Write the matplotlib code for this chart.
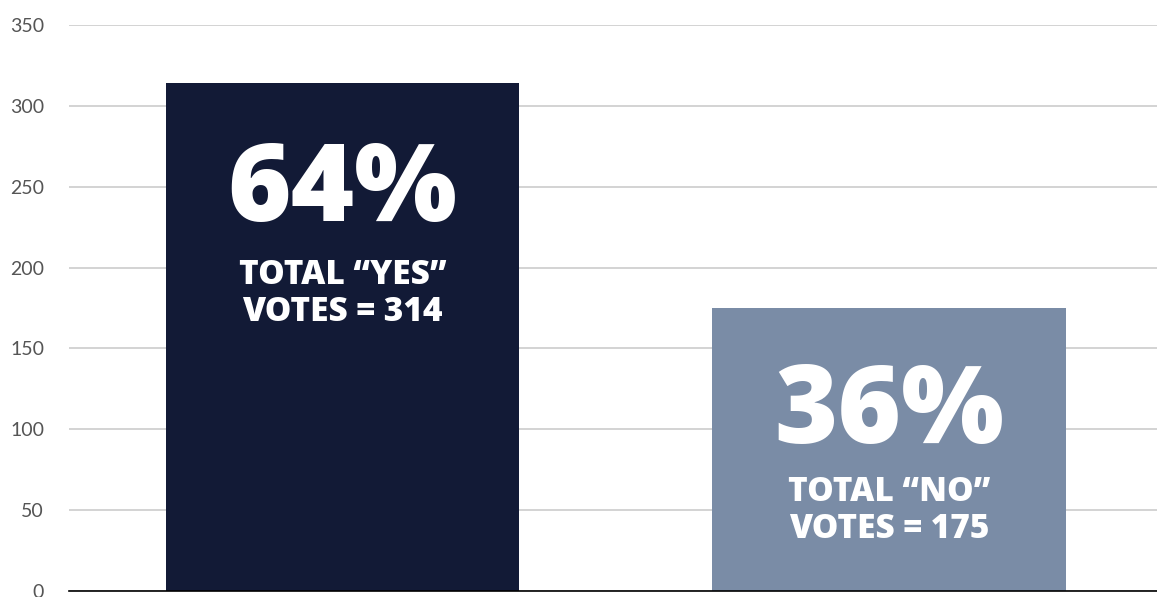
import matplotlib.pyplot as plt

labels = ['YES', 'NO']
votes = [314, 175]
shares = ['64%', '36%']
colors = ['#121a36', '#7a8ca6']
yticks = [0, 50, 100, 150, 200, 250, 300, 350]


def main():
    fig = plt.figure(figsize=(11.57, 5.97), dpi=100)
    ax = fig.add_axes([69 / 1157, 6 / 597, 1 - 69 / 1157, 566 / 597])

    xs = list(range(len(votes)))
    ax.bar(xs, votes, width=0.646, color=colors, zorder=2)

    # offsets below the bar top (data units) for the big number and the caption
    offs = [(68, 130), (66, 125)]
    for x, v, s, lab, (o1, o2) in zip(xs, votes, shares, labels, offs):
        ax.text(x, v - o1, s, ha='center', va='center', color='white',
                fontsize=78, fontweight=800, family='Open Sans')
        ax.text(x, v - o2, 'TOTAL \u201c%s\u201d\nVOTES = %d' % (lab, v),
                ha='center', va='center', color='white', fontsize=24,
                fontweight=800, family='Open Sans', linespacing=1.12)

    ax.set_xlim(-0.5005, 1.4904)
    ax.set_ylim(0, 350)
    ax.set_yticks(yticks)
    ax.set_xticks([])
    ax.tick_params(axis='y', length=0, pad=18, labelsize=14, labelcolor='#555555')
    for t in ax.get_yticklabels():
        t.set_family('Lato')
    ax.grid(axis='y', color='#cccccc', linewidth=1.2, zorder=0)
    for side in ['top', 'right', 'left']:
        ax.spines[side].set_visible(False)
    ax.spines['bottom'].set_color('black')
    ax.spines['bottom'].set_linewidth(1.2)
    ax.spines['bottom'].set_zorder(3)

    fig.savefig('out.png', dpi=100)


if __name__ == '__main__':
    main()
